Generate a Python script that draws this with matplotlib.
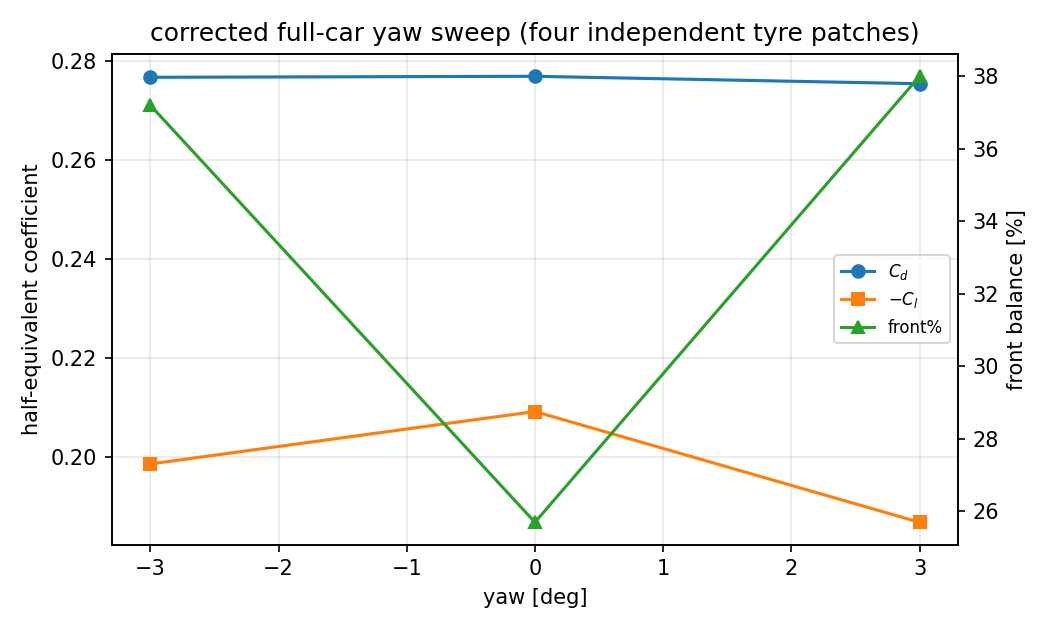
import matplotlib
matplotlib.use("Agg")
import matplotlib.pyplot as plt

# yaw sweep results
yaw = [-3, 0, 3]
cd = [0.2767, 0.2769, 0.2754]
neg_cl = [0.1985, 0.2091, 0.1867]
front_pct = [37.2, 25.7, 38.0]


def main():
    fig, ax = plt.subplots(figsize=(7, 4.2), dpi=150)
    l1, = ax.plot(yaw, cd, marker='o', color='C0', label='$C_d$')
    l2, = ax.plot(yaw, neg_cl, marker='s', color='C1', label='$-C_l$')
    ax.set_xlabel("yaw [deg]")
    ax.set_ylabel("half-equivalent coefficient")
    ax.grid(True, alpha=0.3)

    ax2 = ax.twinx()
    l3, = ax2.plot(yaw, front_pct, marker='^', color='C2', label='front%')
    ax2.set_ylabel("front balance [%]")

    ax2.legend([l1, l2, l3], [l.get_label() for l in (l1, l2, l3)],
               loc='center right', fontsize=8)
    ax.set_title("corrected full-car yaw sweep (four independent tyre patches)")
    fig.tight_layout()
    fig.savefig("out.png")


if __name__ == "__main__":
    main()
